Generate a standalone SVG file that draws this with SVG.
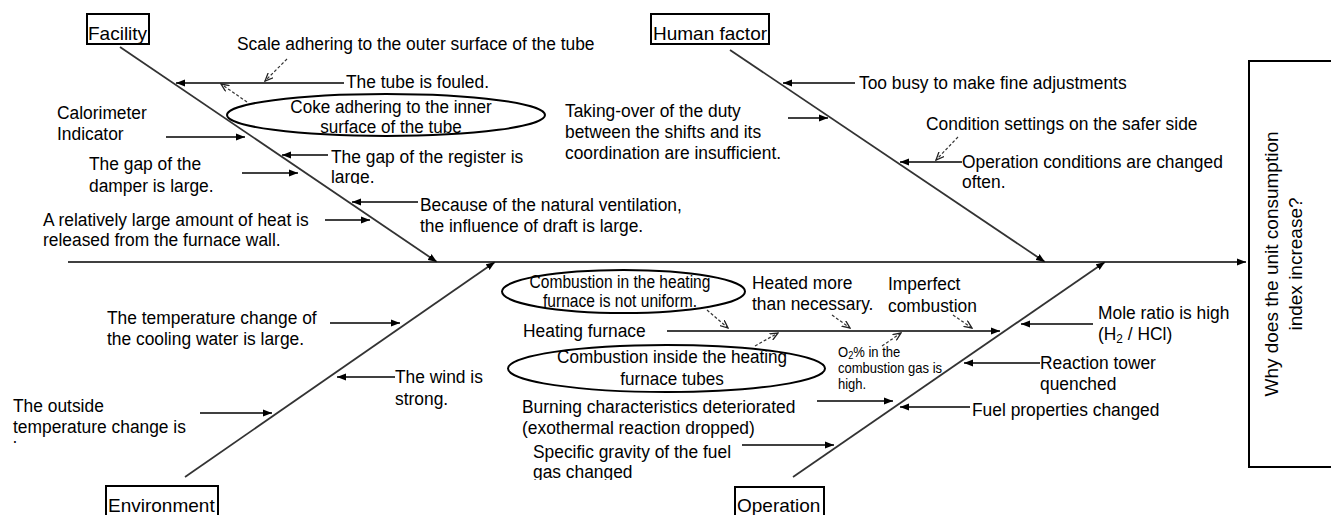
<svg xmlns="http://www.w3.org/2000/svg" width="1331" height="515" viewBox="0 0 1331 515">
<style>
.t{font-family:"Liberation Sans",Arial,sans-serif;font-size:19px;fill:#000}
.s{font-family:"Liberation Sans",Arial,sans-serif;font-size:14px;fill:#000}
.lbl{fill:#fff;stroke:#000;stroke-width:2}
.bone{stroke:#333;stroke-width:1.8;fill:none}
.ar{stroke:#000;stroke-width:1.6;fill:none}
.da{stroke:#333;stroke-width:1.2;stroke-dasharray:3 2;fill:none}
.ell{fill:#fff;stroke:#000;stroke-width:2}
</style>
<defs>
<marker id="h" markerUnits="userSpaceOnUse" markerWidth="10" markerHeight="8" refX="9" refY="4" orient="auto"><path d="M0,0.5 L9,4 L0,7.5 z" fill="#000"/></marker>
<marker id="hd" markerUnits="userSpaceOnUse" markerWidth="9" markerHeight="8" refX="8" refY="4" orient="auto"><path d="M0,0.5 L8,4 L0,7.5" fill="none" stroke="#222" stroke-width="1.3"/></marker>
<clipPath id="c1"><rect x="300" y="140" width="300" height="44"/></clipPath>
<clipPath id="c2"><rect x="0" y="390" width="200" height="53"/></clipPath>
<clipPath id="c3"><rect x="500" y="440" width="260" height="40"/></clipPath>
</defs>

<g id="connectors">
<line class="ar" x1="68" y1="262" x2="1246" y2="262" marker-end="url(#h)"/>
<line class="bone" x1="120" y1="47" x2="437" y2="262" marker-end="url(#h)"/>
<line class="bone" x1="730" y1="50" x2="1045" y2="262" marker-end="url(#h)"/>
<line class="bone" x1="185" y1="477" x2="495" y2="262" marker-end="url(#h)"/>
<line class="bone" x1="793" y1="477" x2="1105" y2="262" marker-end="url(#h)"/>
<line class="ar" x1="344" y1="83" x2="176" y2="83" marker-end="url(#h)"/>
<line class="ar" x1="166" y1="137" x2="245" y2="137" marker-end="url(#h)"/>
<line class="ar" x1="328" y1="155" x2="282" y2="155" marker-end="url(#h)"/>
<line class="ar" x1="242" y1="173" x2="298" y2="173" marker-end="url(#h)"/>
<line class="ar" x1="418" y1="202" x2="352" y2="202" marker-end="url(#h)"/>
<line class="ar" x1="325" y1="220" x2="370" y2="220" marker-end="url(#h)"/>
<line class="da" x1="287" y1="59" x2="265" y2="81" marker-end="url(#hd)"/>
<line class="da" x1="247" y1="102" x2="221" y2="84" marker-end="url(#hd)"/>
<line class="ar" x1="855" y1="83" x2="783" y2="83" marker-end="url(#h)"/>
<line class="ar" x1="788" y1="118" x2="828" y2="118" marker-end="url(#h)"/>
<line class="ar" x1="962" y1="162" x2="900" y2="162" marker-end="url(#h)"/>
<line class="da" x1="958" y1="137" x2="936" y2="160" marker-end="url(#hd)"/>
<line class="ar" x1="330" y1="323" x2="400" y2="323" marker-end="url(#h)"/>
<line class="ar" x1="395" y1="377" x2="337" y2="377" marker-end="url(#h)"/>
<line class="ar" x1="200" y1="413" x2="272" y2="413" marker-end="url(#h)"/>
<line class="ar" x1="667" y1="331" x2="1000" y2="331" marker-end="url(#h)"/>
<line class="da" x1="707" y1="310" x2="728" y2="328" marker-end="url(#hd)"/>
<line class="da" x1="832" y1="315" x2="850" y2="328" marker-end="url(#hd)"/>
<line class="da" x1="953" y1="315" x2="972" y2="328" marker-end="url(#hd)"/>
<line class="da" x1="755" y1="346" x2="778" y2="333" marker-end="url(#hd)"/>
<line class="da" x1="882" y1="346" x2="901" y2="333" marker-end="url(#hd)"/>
<line class="ar" x1="817" y1="401" x2="893" y2="401" marker-end="url(#h)"/>
<line class="ar" x1="970" y1="407" x2="900" y2="407" marker-end="url(#h)"/>
<line class="ar" x1="742" y1="445" x2="834" y2="445" marker-end="url(#h)"/>
<line class="ar" x1="1093" y1="324" x2="1021" y2="324" marker-end="url(#h)"/>
<line class="ar" x1="1040" y1="363" x2="964" y2="363" marker-end="url(#h)"/>
</g>

<g id="effect">
<rect x="1249" y="61" width="100" height="406" fill="#fff" stroke="#000" stroke-width="2"/>
<text class="t" font-size="19.5" text-anchor="middle" transform="translate(1278,264) rotate(-90)">Why does the unit consumption</text>
<text class="t" font-size="19.5" text-anchor="middle" transform="translate(1302,264) rotate(-90)">index increase?</text>
</g>

<g id="cat-facility">
<rect class="lbl" x="87" y="14" width="62" height="30"/>
<text class="t" x="88" y="39.5">Facility</text>
</g>
<g id="cat-human">
<rect class="lbl" x="651" y="14" width="118" height="30"/>
<text class="t" x="653" y="39.5">Human factor</text>
</g>
<g id="cat-environment">
<rect class="lbl" x="106" y="486" width="112" height="40"/>
<text class="t" x="108" y="512">Environment</text>
</g>
<g id="cat-operation">
<rect class="lbl" x="735" y="487" width="89" height="40"/>
<text class="t" x="737" y="512">Operation</text>
</g>

<g id="n-scale"><text class="t" transform="translate(237,50) scale(0.915,1)">Scale adhering to the outer surface of the tube</text></g>
<g id="n-fouled"><text class="t" transform="translate(346,88) scale(0.915,1)">The tube is fouled.</text></g>
<g id="n-coke">
<ellipse class="ell" cx="386" cy="115" rx="159" ry="21"/>
<text class="t" font-size="18" text-anchor="middle" transform="translate(391,113) scale(0.9,1)"><tspan x="0" y="0">Coke adhering to the inner</tspan><tspan x="0" y="20">surface of the tube</tspan></text>
</g>
<g id="n-calorimeter"><text class="t" transform="translate(57,119) scale(0.915,1)"><tspan x="0" y="0">Calorimeter</tspan><tspan x="0" y="21">Indicator</tspan></text></g>
<g id="n-register" clip-path="url(#c1)"><text class="t" transform="translate(331,163) scale(0.915,1)"><tspan x="0" y="0">The gap of the register is</tspan><tspan x="0" y="20.5">large.</tspan></text></g>
<g id="n-damper"><text class="t" transform="translate(89,170) scale(0.915,1)"><tspan x="0" y="0">The gap of the</tspan><tspan x="0" y="22">damper is large.</tspan></text></g>
<g id="n-ventilation"><text class="t" transform="translate(420,211) scale(0.915,1)"><tspan x="0" y="0">Because of the natural ventilation,</tspan><tspan x="0" y="21">the influence of draft is large.</tspan></text></g>
<g id="n-heat"><text class="t" transform="translate(43,226) scale(0.915,1)"><tspan x="0" y="0">A relatively large amount of heat is</tspan><tspan x="0" y="20">released from the furnace wall.</tspan></text></g>

<g id="n-busy"><text class="t" transform="translate(859,89) scale(0.915,1)">Too busy to make fine adjustments</text></g>
<g id="n-takeover"><text class="t" transform="translate(565,117) scale(0.915,1)"><tspan x="0" y="0">Taking-over of the duty</tspan><tspan x="0" y="21">between the shifts and its</tspan><tspan x="0" y="42.5">coordination are insufficient.</tspan></text></g>
<g id="n-safer"><text class="t" transform="translate(926,130) scale(0.915,1)">Condition settings on the safer side</text></g>
<g id="n-changed"><text class="t" transform="translate(962,168) scale(0.915,1)"><tspan x="0" y="0">Operation conditions are changed</tspan><tspan x="0" y="20">often.</tspan></text></g>

<g id="n-cooling"><text class="t" transform="translate(107,324) scale(0.915,1)"><tspan x="0" y="0">The temperature change of</tspan><tspan x="0" y="21">the cooling water is large.</tspan></text></g>
<g id="n-wind"><text class="t" transform="translate(395,383) scale(0.915,1)"><tspan x="0" y="0">The wind is</tspan><tspan x="0" y="22">strong.</tspan></text></g>
<g id="n-outside" clip-path="url(#c2)"><text class="t" transform="translate(13,412) scale(0.915,1)"><tspan x="0" y="0">The outside</tspan><tspan x="0" y="21">temperature change is</tspan><tspan x="0" y="42">large.</tspan></text></g>

<g id="n-uniform">
<ellipse class="ell" cx="623.5" cy="291.5" rx="121.5" ry="21.5"/>
<text class="t" font-size="16" text-anchor="middle" transform="translate(620,287.5) scale(0.82,1)"><tspan x="0" y="0">Combustion in the heating</tspan><tspan x="0" y="19.5">furnace is not uniform.</tspan></text>
</g>
<g id="n-heating"><text class="t" transform="translate(523,337) scale(0.915,1)">Heating furnace</text></g>
<g id="n-heated"><text class="t" transform="translate(752,289) scale(0.915,1)"><tspan x="0" y="0">Heated more</tspan><tspan x="0" y="21">than necessary.</tspan></text></g>
<g id="n-imperfect"><text class="t" transform="translate(888,290) scale(0.915,1)"><tspan x="0" y="0">Imperfect</tspan><tspan x="0" y="22">combustion</tspan></text></g>
<g id="n-tubes">
<ellipse class="ell" cx="666.5" cy="368.5" rx="158.5" ry="23.5"/>
<text class="t" font-size="18" text-anchor="middle" transform="translate(672,363) scale(0.9,1)"><tspan x="0" y="0">Combustion inside the heating</tspan><tspan x="0" y="22">furnace tubes</tspan></text>
</g>
<g id="n-o2"><text class="s" transform="translate(838,357) scale(0.93,1)"><tspan x="0" y="0">O<tspan font-size="10" dy="2">2</tspan><tspan dy="-2">% in the</tspan></tspan><tspan x="0" y="16">combustion gas is</tspan><tspan x="0" y="32">high.</tspan></text></g>
<g id="n-burning"><text class="t" transform="translate(522,413) scale(0.915,1)"><tspan x="0" y="0">Burning characteristics deteriorated</tspan><tspan x="0" y="21">(exothermal reaction dropped)</tspan></text></g>
<g id="n-gravity" clip-path="url(#c3)"><text class="t" transform="translate(533,458) scale(0.915,1)"><tspan x="0" y="0">Specific gravity of the fuel</tspan><tspan x="0" y="20">gas changed</tspan></text></g>
<g id="n-mole"><text class="t" transform="translate(1098,319) scale(0.915,1)"><tspan x="0" y="0">Mole ratio is high</tspan><tspan x="0" y="21">(H<tspan font-size="13" dy="3">2</tspan><tspan dy="-3"> / HCl)</tspan></tspan></text></g>
<g id="n-reaction"><text class="t" transform="translate(1040,369) scale(0.915,1)"><tspan x="0" y="0">Reaction tower</tspan><tspan x="0" y="21">quenched</tspan></text></g>
<g id="n-fuel"><text class="t" transform="translate(972,416) scale(0.915,1)">Fuel properties changed</text></g>
</svg>
